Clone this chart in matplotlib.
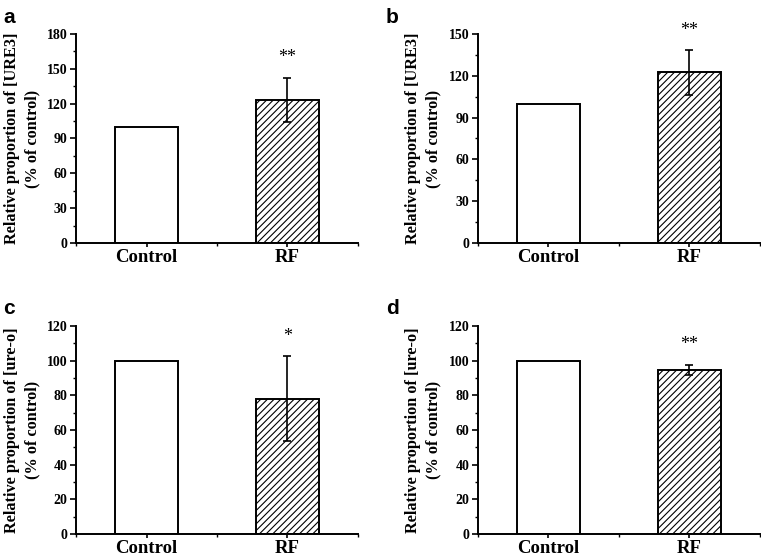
import numpy as np
import matplotlib.pyplot as plt
from matplotlib.ticker import MultipleLocator, FixedLocator

plt.rcParams['font.family'] = 'Liberation Serif'
plt.rcParams['font.weight'] = 'bold'
plt.rcParams['hatch.linewidth'] = 0.8

groups = ['Control', 'RF']
panel_letters = ['a', 'b', 'c', 'd']
ylabels = ['Relative proportion of [URE3]', 'Relative proportion of [URE3]',
           'Relative proportion of [ure-o]', 'Relative proportion of [ure-o]']
rf_means = [123.5, 122.5, 78.0, 94.7]
rf_errors = [19.0, 16.0, 24.5, 3.0]
control_means = [100, 100, 100, 100]
stars = ['**', '**', '*', '**']
ymax = [180, 150, 120, 120]
ystep = [30, 30, 20, 20]

# axes boxes in figure fraction [left, bottom, width, height]
boxes = [
    [0.0999, 0.5645, 0.3705, 0.3746],
    [0.6277, 0.5645, 0.3710, 0.3746],
    [0.0999, 0.0430, 0.3705, 0.3728],
    [0.6277, 0.0430, 0.3710, 0.3728],
]
letter_pos = [(0.004, 0.985), (0.507, 0.985), (0.004, 0.465), (0.507, 0.465)]

fig = plt.figure(figsize=(7.61, 5.58), dpi=100)

for i in range(4):
    ax = fig.add_axes(boxes[i])
    x = np.arange(1, len(groups) + 1)
    ax.bar(x[0], control_means[i], width=0.45, color='white', edgecolor='black', linewidth=1.4)
    ax.bar(x[1], rf_means[i], width=0.45, color='white', edgecolor='black', linewidth=1.4,
           hatch='/////')
    ax.errorbar(x[1], rf_means[i], yerr=rf_errors[i], fmt='none', ecolor='black',
                elinewidth=1.2, capsize=3, capthick=1.2)
    star_y = rf_means[i] + rf_errors[i] + ymax[i] * 0.055
    ax.text(x[1], star_y, stars[i], ha='center', va='bottom', fontsize=13,
            fontweight='normal')

    ax.set_xlim(0.5, 2.5)
    ax.set_ylim(0, ymax[i])
    ax.yaxis.set_major_locator(MultipleLocator(ystep[i]))
    ax.yaxis.set_minor_locator(MultipleLocator(ystep[i] / 2))
    ax.set_xticks(x)
    ax.set_xticklabels(groups, fontsize=13.5, fontweight='bold')
    ax.xaxis.set_minor_locator(FixedLocator([0.5, 1.5, 2.5]))
    ax.tick_params(axis='y', which='major', direction='out', length=4, width=1.2,
                   labelsize=10, pad=2)
    ax.tick_params(axis='y', which='minor', direction='out', length=2.5, width=1.0)
    ax.tick_params(axis='x', which='major', direction='out', length=3, width=1.2, pad=1.5)
    ax.tick_params(axis='x', which='minor', direction='out', length=2.5, width=1.0)
    for lab in ax.get_yticklabels():
        lab.set_fontweight('bold')

    for side in ['top', 'right']:
        ax.spines[side].set_visible(False)
    for side in ['left', 'bottom']:
        ax.spines[side].set_linewidth(1.4)

    ax.set_ylabel(ylabels[i] + '\n(% of control)', fontsize=11.7, fontweight='bold',
                  linespacing=1.35, labelpad=5)

    fig.text(letter_pos[i][0], letter_pos[i][1], panel_letters[i], ha='left', va='top',
             fontsize=15, fontweight='bold', family='Liberation Sans')

fig.savefig('out.png', dpi=100)
